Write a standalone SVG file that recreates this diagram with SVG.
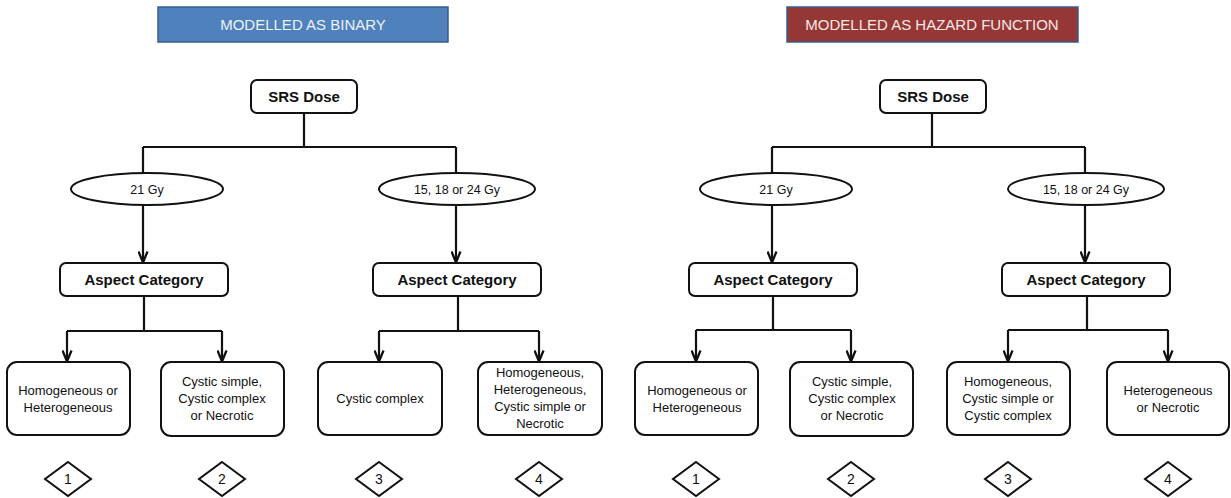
<svg xmlns="http://www.w3.org/2000/svg" width="1231" height="498" viewBox="0 0 1231 498">
<style>
text{font-family:"Liberation Sans",Arial,sans-serif;fill:#111;text-anchor:middle}
.hdr{font-size:15px;fill:#eef2f8}
.hdr2{font-size:15px;fill:#f6e8e6}
.box{fill:#fff;stroke:#111;stroke-width:2}
.b{font-size:15px;font-weight:bold}
.s{font-size:13px}
.e{font-size:12.5px}
.d{font-size:14px}
.con{fill:none;stroke:#111;stroke-width:2.2}
</style>
<defs>
<marker id="ar" viewBox="0 0 13 11" refX="11.5" refY="5.5" markerWidth="13" markerHeight="11" markerUnits="userSpaceOnUse" orient="auto">
<path d="M1,1 L12,5.5 L1,10" fill="none" stroke="#111" stroke-width="2.3"/>
</marker>
</defs>
<rect width="1231" height="498" fill="#fff"/>

<g id="header-binary"><rect x="158" y="7" width="290" height="35" fill="#4f81bd" stroke="#385d8a" stroke-width="1.5"/><text class="hdr" x="303" y="30">MODELLED AS BINARY</text></g>
<g id="header-hazard"><rect x="787" y="7" width="291" height="35" fill="#953735" stroke="#385d8a" stroke-width="1.5"/><text class="hdr2" x="932" y="30">MODELLED AS HAZARD FUNCTION</text></g>

<g id="connectors">
<path class="con" d="M304,113 V147 M143,147 H456 M143,147 V173 M456,147 V173"/>
<path class="con" d="M143,205 V262" marker-end="url(#ar)"/>
<path class="con" d="M456,205 V262" marker-end="url(#ar)"/>
<path class="con" d="M144,296 V331 M67,331 H222 M458,296 V331 M379,331 H539"/>
<path class="con" d="M67,331 V361" marker-end="url(#ar)"/>
<path class="con" d="M222,331 V361" marker-end="url(#ar)"/>
<path class="con" d="M379,331 V361" marker-end="url(#ar)"/>
<path class="con" d="M539,331 V361" marker-end="url(#ar)"/>

<path class="con" d="M932,113 V147 M772,147 H1085 M772,147 V173 M1085,147 V173"/>
<path class="con" d="M772,205 V262" marker-end="url(#ar)"/>
<path class="con" d="M1085,205 V262" marker-end="url(#ar)"/>
<path class="con" d="M773,296 V330 M696,330 H851 M1087,296 V330 M1008,330 H1168"/>
<path class="con" d="M696,330 V361" marker-end="url(#ar)"/>
<path class="con" d="M851,330 V361" marker-end="url(#ar)"/>
<path class="con" d="M1008,330 V361" marker-end="url(#ar)"/>
<path class="con" d="M1168,330 V361" marker-end="url(#ar)"/>
</g>

<g id="L-srs"><rect class="box" x="251" y="80" width="106" height="33" rx="6"/><text class="b" x="304" y="102">SRS Dose</text></g>
<g id="L-dose21"><ellipse class="box" cx="147" cy="189" rx="76" ry="16"/><text class="e" x="147" y="193.5">21 Gy</text></g>
<g id="L-doseOther"><ellipse class="box" cx="457" cy="189" rx="78" ry="16"/><text class="e" x="457" y="193.5">15, 18 or 24 Gy</text></g>
<g id="L-aspect1"><rect class="box" x="60" y="263" width="168" height="33" rx="6"/><text class="b" x="144" y="285">Aspect Category</text></g>
<g id="L-aspect2"><rect class="box" x="373" y="263" width="168" height="33" rx="6"/><text class="b" x="457" y="285">Aspect Category</text></g>
<g id="L-leaf1"><rect class="box" x="7" y="362" width="123" height="73" rx="10"/><text class="s" x="68" y="395">Homogeneous or</text><text class="s" x="68" y="412">Heterogeneous</text></g>
<g id="L-leaf2"><rect class="box" x="161" y="362" width="123" height="74" rx="10"/><text class="s" x="222" y="386">Cystic simple,</text><text class="s" x="222" y="403">Cystic complex</text><text class="s" x="222" y="420">or Necrotic</text></g>
<g id="L-leaf3"><rect class="box" x="318" y="362" width="124" height="73" rx="10"/><text class="s" x="380" y="403">Cystic complex</text></g>
<g id="L-leaf4"><rect class="box" x="478" y="362" width="124" height="73" rx="10"/><text class="s" x="540" y="377">Homogeneous,</text><text class="s" x="540" y="394">Heterogeneous,</text><text class="s" x="540" y="411">Cystic simple or</text><text class="s" x="540" y="428">Necrotic</text></g>

<g id="R-srs"><rect class="box" x="880" y="80" width="106" height="33" rx="6"/><text class="b" x="933" y="102">SRS Dose</text></g>
<g id="R-dose21"><ellipse class="box" cx="776" cy="189" rx="76" ry="16"/><text class="e" x="776" y="193.5">21 Gy</text></g>
<g id="R-doseOther"><ellipse class="box" cx="1086" cy="189" rx="78" ry="16"/><text class="e" x="1086" y="193.5">15, 18 or 24 Gy</text></g>
<g id="R-aspect1"><rect class="box" x="689" y="263" width="168" height="33" rx="6"/><text class="b" x="773" y="285">Aspect Category</text></g>
<g id="R-aspect2"><rect class="box" x="1002" y="263" width="168" height="33" rx="6"/><text class="b" x="1086" y="285">Aspect Category</text></g>
<g id="R-leaf1"><rect class="box" x="635" y="362" width="123" height="73" rx="10"/><text class="s" x="697" y="395">Homogeneous or</text><text class="s" x="697" y="412">Heterogeneous</text></g>
<g id="R-leaf2"><rect class="box" x="790" y="362" width="123" height="74" rx="10"/><text class="s" x="852" y="386">Cystic simple,</text><text class="s" x="852" y="403">Cystic complex</text><text class="s" x="852" y="420">or Necrotic</text></g>
<g id="R-leaf3"><rect class="box" x="947" y="362" width="123" height="73" rx="10"/><text class="s" x="1008" y="386">Homogeneous,</text><text class="s" x="1008" y="403">Cystic simple or</text><text class="s" x="1008" y="420">Cystic complex</text></g>
<g id="R-leaf4"><rect class="box" x="1107" y="362" width="122" height="73" rx="10"/><text class="s" x="1168" y="395">Heterogeneous</text><text class="s" x="1168" y="412">or Necrotic</text></g>

<g id="L-d1"><path class="box" d="M68,462 L91,479 L68,496 L45,479 Z"/><text class="d" x="68" y="484">1</text></g>
<g id="L-d2"><path class="box" d="M222,462 L245,479 L222,496 L199,479 Z"/><text class="d" x="222" y="484">2</text></g>
<g id="L-d3"><path class="box" d="M379,462 L402,479 L379,496 L356,479 Z"/><text class="d" x="379" y="484">3</text></g>
<g id="L-d4"><path class="box" d="M539,462 L562,479 L539,496 L516,479 Z"/><text class="d" x="539" y="484">4</text></g>
<g id="R-d1"><path class="box" d="M696,462 L719,479 L696,496 L673,479 Z"/><text class="d" x="696" y="484">1</text></g>
<g id="R-d2"><path class="box" d="M851,462 L874,479 L851,496 L828,479 Z"/><text class="d" x="851" y="484">2</text></g>
<g id="R-d3"><path class="box" d="M1008,462 L1031,479 L1008,496 L985,479 Z"/><text class="d" x="1008" y="484">3</text></g>
<g id="R-d4"><path class="box" d="M1168,462 L1191,479 L1168,496 L1145,479 Z"/><text class="d" x="1168" y="484">4</text></g>
</svg>
